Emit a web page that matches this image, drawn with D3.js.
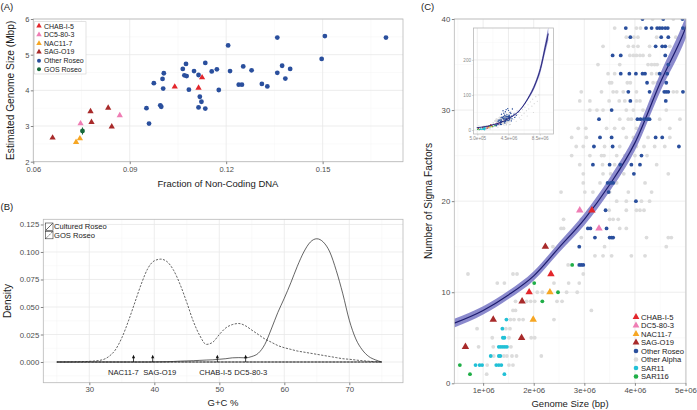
<!DOCTYPE html>
<html><head><meta charset="utf-8">
<script src="https://cdn.jsdelivr.net/npm/d3@7"></script>
<style>
body{margin:0;background:#fff;}
svg{font-family:"Liberation Sans",Arial,sans-serif;display:block;}
</style></head><body>
<svg id="chart" width="697" height="410"></svg>
<script>
// ---------------- DATA ----------------
// Panel A: [fraction non-coding, estimated genome size (Mbp)]
const A_otherRoseo = [[0.1507,5.52],[0.1359,5.48],[0.1206,5.26],[0.1497,4.88],[0.1075,4.74],[0.1135,4.77],[0.1065,4.60],[0.1006,4.48],[0.1100,4.54],[0.1114,4.43],[0.1070,4.42],[0.1077,4.40],[0.1002,4.32],[0.0975,4.20],[0.1155,4.53],[0.1171,4.59],[0.1212,4.54],[0.1253,4.67],[0.1279,4.56],[0.1374,4.69],[0.1399,4.60],[0.1359,4.49],[0.1384,4.33],[0.1311,4.18],[0.1239,4.16],[0.1249,4.16],[0.1328,4.11],[0.1004,4.05],[0.1084,4.02],[0.1177,4.01],[0.1118,3.82],[0.1123,3.68],[0.0995,3.58],[0.0998,3.54],[0.1114,3.52],[0.1135,3.49],[0.0952,3.50],[0.0960,3.07],[0.1697,5.48]];
const A_chab = [[0.1040,4.10],[0.1125,4.36],[0.1114,4.07]];
const A_dc5 = [[0.0869,3.30],[0.0747,3.07]];
const A_nac = [[0.0733,2.55],[0.0745,2.65]];
const A_sag = [[0.0660,2.67],[0.0778,3.41],[0.0781,3.11],[0.0833,3.51],[0.0844,2.98]];
const A_gos = [[0.0753,2.86]];
const A_gosErrX = [0.0748,0.0758];
const A_gosErrY = [2.76,2.96];
const A_xTicks = [0.06,0.09,0.12,0.15];
const A_yTicks = [2,3,4,5,6];

// Panel B: densities over G+C %
const B_gc = [25,28,30,32,33,34,35,36,37,38,39,40,41,42,43,44,45,46,47,48,49,50,51,52,53,54,55,56,57,58,59,60,61,62,63,64,65,66,67,68,69,70,71,72,73,74,75];
const B_gos = [0,0.0002,0.0006,0.002,0.005,0.011,0.022,0.037,0.054,0.071,0.085,0.092,0.0935,0.091,0.083,0.07,0.054,0.037,0.024,0.016,0.018,0.025,0.031,0.034,0.035,0.033,0.029,0.025,0.021,0.018,0.015,0.013,0.0115,0.010,0.009,0.008,0.007,0.006,0.005,0.004,0.003,0.0025,0.0018,0.0012,0.0007,0.0003,0];
const B_cultured = [0,0,0,0,0,0,0,0,0,0,0,0.0001,0.0002,0.0003,0.0005,0.0008,0.001,0.0012,0.0015,0.0018,0.002,0.0025,0.003,0.0038,0.004,0.0038,0.005,0.008,0.016,0.03,0.045,0.058,0.072,0.087,0.1,0.109,0.112,0.109,0.1,0.083,0.062,0.038,0.021,0.011,0.005,0.002,0];
const B_arrowGC = [36.8,39.75,49.7,54.05];
const B_labelGC = [35.23,40.83,49.42,54.83];
const B_labels = ["NAC11-7","SAG-O19","CHAB-I-5","DC5-80-3"];
const B_xTicks = [30,40,50,60,70];
const B_yTicks = [0,0.025,0.05,0.075,0.1,0.125];

// Panel C: [genome size (Mbp), number of sigma factors]
const C_chab = [[3.15,19],[2.34,12],[1.91,10]];
const C_dc5 = [[2.91,19],[3.29,17]];
const C_nac = [[2.32,10],[1.99,7]];
const C_sag = [[2.23,15],[1.77,9],[1.20,7],[1.76,5],[0.65,4]];
const C_sar116 = [[2.76,13],[2.01,11],[2.48,10],[2.17,9],[0.54,2],[0.74,1]];
const C_sar11 = [[1.46,7],[1.38,6],[1.39,5],[1.42,5],[1.31,4],[1.35,4],[1.39,4],[1.43,4],[1.47,4],[1.15,3],[1.31,3],[1.34,3],[0.85,2],[0.93,2],[0.98,2],[1.26,2],[1.31,2],[1.36,2],[1.42,1]];
const C_otherRoseo = [[4.15,40],[4.56,40],[4.94,40],[3.82,39],[4.22,39],[4.33,39],[4.44,39],[4.49,39],[4.54,39],[4.60,39],[4.65,39],[4.95,39],[3.91,38],[4.52,38],[4.66,38],[4.41,37],[4.54,37],[4.60,37],[3.56,36],[3.72,36],[4.60,36],[4.66,35],[3.72,34],[3.89,34],[4.02,34],[4.15,34],[4.20,34],[4.49,34],[4.64,34],[4.24,33],[4.62,33],[3.87,32],[4.29,32],[4.58,32],[4.62,32],[4.66,32],[4.95,32],[3.91,31],[4.61,31],[3.54,30],[3.29,29],[4.05,29],[4.11,29],[4.18,29],[4.25,29],[4.29,29],[3.31,27],[3.54,27],[4.41,27],[4.54,27],[3.19,26],[3.56,26],[4.87,26],[4.13,25],[3.17,24],[3.50,24],[3.71,24],[3.93,24],[4.10,24],[3.98,23],[3.46,22],[3.52,22],[3.57,22],[3.48,21],[4.02,20],[3.42,19],[3.07,17],[3.12,17],[3.44,17],[3.21,16],[3.50,16],[3.54,16],[3.57,16],[2.90,15],[2.90,13],[2.94,13],[2.98,13],
  [3.6,45],[3.9,48],[4.1,52],[4.3,44],[4.5,56],[4.7,50],[4.0,42],[4.4,61],[3.8,55],[4.8,47],[5.2,45],[4.6,42],[4.2,58],[5.0,60],[5.3,36],[5.5,42],[5.8,52]];
const C_otherAlpha = [[4.35,40],[4.76,40],[3.60,39],[4.03,39],[4.11,39],[3.83,38],[3.98,38],[4.06,38],[4.43,38],[4.81,38],[3.37,37],[3.87,37],[3.97,37],[4.06,37],[4.29,37],[4.69,37],[3.90,36],[3.97,36],[4.03,36],[4.10,36],[4.16,36],[4.29,36],[3.27,35],[3.70,35],[4.26,35],[4.33,35],[4.39,35],[4.44,35],[3.47,34],[3.60,34],[4.33,34],[4.43,34],[3.50,33],[3.54,33],[3.85,33],[3.91,33],[4.36,33],[4.44,33],[2.94,32],[3.34,32],[3.57,32],[3.64,32],[3.77,32],[4.03,32],[4.43,32],[4.76,32],[4.83,32],[2.91,31],[3.11,31],[3.49,31],[3.69,31],[3.80,31],[4.03,31],[4.10,31],[4.33,31],[3.11,30],[3.25,30],[3.37,30],[3.83,30],[3.97,30],[4.16,30],[4.62,30],[3.70,29],[3.87,29],[3.93,29],[4.49,29],[4.89,29],[2.88,28],[3.03,28],[3.44,28],[3.60,28],[3.77,28],[4.03,28],[4.69,28],[2.75,27],[3.04,27],[3.83,27],[3.97,27],[4.26,27],[4.69,27],[2.84,26],[2.98,26],[3.40,26],[3.70,26],[4.03,26],[4.18,26],[4.39,26],[4.59,26],[2.75,25],[3.11,25],[3.34,25],[3.39,25],[3.64,25],[3.80,25],[4.00,25],[4.24,25],[2.91,24],[3.36,24],[3.60,24],[4.43,24],[2.98,23],[3.37,23],[3.52,23],[3.78,23],[4.66,23],[2.98,22],[3.31,22],[3.64,22],[4.20,22],[2.54,21],[3.01,21],[3.17,21],[3.50,21],[3.87,21],[4.33,21],[3.64,20],[3.83,20],[4.13,20],[4.29,20],[3.49,19],[3.83,19],[4.03,19],[4.10,19],[4.18,19],[2.59,18],[2.94,18],[3.50,18],[3.57,18],[3.67,18],[2.54,17],[2.59,17],[3.70,17],[3.83,17],[2.94,16],[4.23,16],[4.66,16],[4.72,16],[2.38,15],[3.40,15],[4.62,15],[3.21,14],[3.37,14],[3.54,14],[3.93,14],[4.20,14],[2.68,13],[0.70,12],[1.59,12],[1.67,12],[2.98,12],[1.28,11],[1.42,11],[2.40,11],[2.69,11],[2.90,11],[2.07,10],[2.17,10],[2.65,10],[2.86,10],[1.64,9],[1.86,9],[1.94,9],[2.02,9],[2.46,9],[2.56,9],[1.59,8],[1.64,8],[3.14,8],[1.54,7],[1.61,7],[1.71,7],[1.79,7],[2.40,7],[0.88,6],[1.45,6],[1.53,6],[1.18,5],[1.51,5],[1.95,5],[2.02,5],[0.91,4],[1.20,4],[1.55,4],[1.21,3],[1.41,3],[1.47,3],[1.57,3],[1.66,3],[2.15,3],[1.08,2],[1.51,2],[1.59,2],[1.07,1],
  [5.2,30],[5.4,38],[5.5,25],[5.7,44],[5.9,35],[6.0,50],[6.2,42],[6.3,58],[6.5,48],[6.6,65],[6.8,55],[7.0,72],[7.1,60],[7.3,80],[7.5,68],[7.6,88],[7.8,75],[8.0,95],[8.2,82],[8.4,100],[5.3,48],[5.6,55],[6.1,30],[6.9,40],[7.7,50],[4.5,45],[4.8,52],[4.2,48],[5.0,62],[4.0,44]];
const C_fitG = [0.43,1.0,1.5,2.0,2.5,3.0,3.5,4.0,4.5,5.0,5.1,6.0,7.0,8.0,8.6,9.2,9.6];
const C_fitN = [6.6,8.0,9.7,11.8,14.9,18.0,21.8,26.4,33.0,39.0,40.5,58,90,135,175,235,275];
const C_fitSE = [0.48,0.45,0.45,0.5,0.55,0.65,0.75,0.85,1.0,1.2,1.25,2,4,7,10,14,18];
const C_xTicks = [1e6,2e6,3e6,4e6,5e6];
const C_yTicks = [0,10,20,30,40];
const I_xTicks = [5e5,4.5e6,8.5e6];
const I_yTicks = [0,100,200];

const colors = {"CHAB-I-5":"#e3262b","DC5-80-3":"#ef7db4","NAC11-7":"#f6a623","SAG-O19":"#a82a2a","Other Roseo":"#2a4f9d","Other Alpha":"#dcdcdc","SAR11":"#21c0d6","SAR116":"#1fae47","GOS Roseo":"#17683a"};

// ---------------- DRAW ----------------
const svg = d3.select("#chart");
const GRID_MAJ="#e8e8e8", GRID_MIN="#f4f4f4", BORDER="#b8b8b8", TXT="#1a1a1a", TICKTXT="#4d4d4d";
let clipId = 0;

function frame(x, y, xt, yt, xm, ym) {
  const g = svg.append("g");
  const [xa,xb] = x.range(), [yb,ya] = y.range();
  g.append("rect").attr("x",xa).attr("y",ya).attr("width",xb-xa).attr("height",yb-ya).attr("fill","#fff");
  g.selectAll(".gxm").data(xm).join("line").attr("x1",d=>x(d)).attr("x2",d=>x(d)).attr("y1",ya).attr("y2",yb).attr("stroke",GRID_MIN).attr("stroke-width",0.5);
  g.selectAll(".gym").data(ym).join("line").attr("y1",d=>y(d)).attr("y2",d=>y(d)).attr("x1",xa).attr("x2",xb).attr("stroke",GRID_MIN).attr("stroke-width",0.5);
  g.selectAll(".gx").data(xt).join("line").attr("x1",d=>x(d)).attr("x2",d=>x(d)).attr("y1",ya).attr("y2",yb).attr("stroke",GRID_MAJ).attr("stroke-width",0.8);
  g.selectAll(".gy").data(yt).join("line").attr("y1",d=>y(d)).attr("y2",d=>y(d)).attr("x1",xa).attr("x2",xb).attr("stroke",GRID_MAJ).attr("stroke-width",0.8);
  const id = "clip"+(clipId++);
  svg.append("clipPath").attr("id",id).append("rect").attr("x",xa).attr("y",ya).attr("width",xb-xa).attr("height",yb-ya);
  const inner = svg.append("g").attr("clip-path",`url(#${id})`);
  return {g, inner, border: ()=>svg.append("rect").attr("x",xa).attr("y",ya).attr("width",xb-xa).attr("height",yb-ya).attr("fill","none").attr("stroke",BORDER).attr("stroke-width",0.8)};
}
function axes(x, y, xt, yt, xf, yf, fs, xpad) {
  const [xa,xb] = x.range(), [yb,ya] = y.range();
  const ax = svg.append("g").attr("transform",`translate(0,${yb})`)
    .call(d3.axisBottom(x).tickValues(xt).tickFormat(xf).tickSize(2.5).tickPadding(xpad||1.5));
  const ay = svg.append("g").attr("transform",`translate(${xa},0)`)
    .call(d3.axisLeft(y).tickValues(yt).tickFormat(yf).tickSize(2.5).tickPadding(1.5));
  [ax,ay].forEach(a=>{
    a.select(".domain").remove();
    a.selectAll("line").attr("stroke","#333").attr("stroke-width",0.6);
    a.selectAll("text").attr("fill",TICKTXT).attr("font-size",fs).attr("font-family","Liberation Sans, Arial, sans-serif");
  });
}
const tri = (sz)=>d3.symbol(d3.symbolTriangle, sz)();
function pts(g, data, x, y, color, shape, size) {
  if (shape === "tri") {
    g.selectAll(null).data(data).join("path").attr("d",tri(size))
      .attr("transform",d=>`translate(${x(d[0])},${y(d[1])})`).attr("fill",color);
  } else {
    g.selectAll(null).data(data).join("circle").attr("cx",d=>x(d[0])).attr("cy",d=>y(d[1])).attr("r",size).attr("fill",color);
  }
}
function title(txt, x, y, rot, fs) {
  svg.append("text").attr("transform",`translate(${x},${y})${rot?" rotate(-90)":""}`)
    .attr("text-anchor","middle").attr("font-size",fs).attr("fill",TXT).text(txt);
}

// ---- Panel A ----
const xA = d3.scaleLinear([0.06,0.175],[33.3,403]);
const yA = d3.scaleLinear([2,6],[161.7,19]);
const fA = frame(xA,yA,A_xTicks,A_yTicks,[0.075,0.105,0.135,0.165],[2.5,3.5,4.5,5.5]);
pts(fA.inner, A_otherRoseo, xA, yA, colors["Other Roseo"], "c", 2.4);
pts(fA.inner, A_chab, xA, yA, colors["CHAB-I-5"], "tri", 17);
pts(fA.inner, A_dc5, xA, yA, colors["DC5-80-3"], "tri", 17);
pts(fA.inner, A_nac, xA, yA, colors["NAC11-7"], "tri", 17);
pts(fA.inner, A_sag, xA, yA, colors["SAG-O19"], "tri", 17);
fA.inner.append("line").attr("x1",xA(A_gos[0][0])).attr("x2",xA(A_gos[0][0])).attr("y1",yA(A_gosErrY[0])).attr("y2",yA(A_gosErrY[1])).attr("stroke",colors["GOS Roseo"]).attr("stroke-width",1);
fA.inner.append("line").attr("y1",yA(A_gos[0][1])).attr("y2",yA(A_gos[0][1])).attr("x1",xA(A_gosErrX[0])).attr("x2",xA(A_gosErrX[1])).attr("stroke",colors["GOS Roseo"]).attr("stroke-width",1);
pts(fA.inner, A_gos, xA, yA, colors["GOS Roseo"], "c", 2.4);
fA.border();
axes(xA,yA,A_xTicks,A_yTicks,d3.format(".2f"),d3.format("d"),7.5,2.6);
title("Fraction of Non-Coding DNA", 218, 186.5, false, 9.5);
title("Estimated Genome Size (Mbp)", 13.5, 90.3, true, 10.2);
svg.append("text").attr("x",0.5).attr("y",9.5).attr("font-size",9.5).attr("fill",TXT).text("(A)");
// legend A
{
  const items = ["CHAB-I-5","DC5-80-3","NAC11-7","SAG-O19","Other Roseo","GOS Roseo"];
  const lg = svg.append("g");
  lg.append("rect").attr("x",34.3).attr("y",21.7).attr("width",51.7).attr("height",52.3).attr("fill","#fff").attr("stroke","#cfcfcf").attr("stroke-width",0.6);
  items.forEach((n,i)=>{
    const cy = 26 + i*8.66;
    if (i<4) lg.append("path").attr("d",tri(13)).attr("transform",`translate(39,${cy})`).attr("fill",colors[n]);
    else lg.append("circle").attr("cx",39).attr("cy",cy).attr("r",2).attr("fill",colors[n]);
    lg.append("text").attr("x",44).attr("y",cy+2.5).attr("font-size",7).attr("fill",TXT).text(n);
  });
}

// ---- Panel B ----
const xB = d3.scaleLinear([22.92,78.26],[43.3,403]);
const yB = d3.scaleLinear([-0.0188,0.1297],[382.7,219.3]);
const fB = frame(xB,yB,B_xTicks,B_yTicks,[25,35,45,55,65,75],[-0.0125,0.0125,0.0375,0.0625,0.0875,0.1125]);
const areaB = (vals)=>d3.area().x((d,i)=>xB(B_gc[i])).y0(yB(0)).y1(d=>yB(d)).curve(d3.curveMonotoneX)(vals);
fB.inner.append("path").attr("d",areaB(B_cultured)).attr("fill","none").attr("stroke","#222").attr("stroke-width",0.7);
fB.inner.append("path").attr("d",areaB(B_gos)).attr("fill","none").attr("stroke","#222").attr("stroke-width",0.7).attr("stroke-dasharray","2.2,1.4");
B_arrowGC.forEach(v=>{
  const x = xB(v);
  fB.inner.append("line").attr("x1",x).attr("x2",x).attr("y1",yB(0)).attr("y2",yB(0.0055)).attr("stroke","#111").attr("stroke-width",0.8);
  fB.inner.append("path").attr("d",`M${x-1.6},${yB(0.0035)}L${x},${yB(0.0065)}L${x+1.6},${yB(0.0035)}Z`).attr("fill","#111");
});
B_labels.forEach((t,i)=>{
  fB.inner.append("text").attr("x",xB(B_labelGC[i])).attr("y",yB(-0.0095)+2.7).attr("text-anchor","middle").attr("font-size",7.6).attr("fill",TXT).text(t);
});
fB.border();
axes(xB,yB,B_xTicks,B_yTicks,d3.format("d"),d3.format(".3f"),7.8);
title("G+C %", 223, 406, false, 9.5);
title("Density", 10.5, 301, true, 10.2);
svg.append("text").attr("x",0.5).attr("y",209.5).attr("font-size",9.5).attr("fill",TXT).text("(B)");
// legend B
{
  const lg = svg.append("g");
  ["Cultured Roseo","GOS Roseo"].forEach((n,i)=>{
    const y0 = 223 + i*8.3;
    lg.append("rect").attr("x",45.5).attr("y",y0).attr("width",7.5).attr("height",7.5).attr("fill","#fff").attr("stroke","#333").attr("stroke-width",0.6);
    lg.append("line").attr("x1",45.8).attr("y1",y0+7.2).attr("x2",52.7).attr("y2",y0+0.3).attr("stroke","#222").attr("stroke-width",0.7).attr("stroke-dasharray",i?"1.6,1":null);
    lg.append("text").attr("x",54).attr("y",y0+6.3).attr("font-size",7.6).attr("fill",TXT).text(n);
  });
}

// ---- Panel C ----
const xC = d3.scaleLinear([0.43e6,5.01e6],[454.3,686]);
const yC = d3.scaleLinear([0,40],[383.3,19]);
const fC = frame(xC,yC,C_xTicks,[10,20,30,40],[0.5e6,1.5e6,2.5e6,3.5e6,4.5e6],[5,15,25,35]);
const fitIdx = d3.range(C_fitG.length);
function drawFit(g, xs, ys, lw, upTo) {
  const idx = fitIdx.filter(i=>C_fitG[i]<=upTo);
  g.append("path").attr("d", d3.area().x(i=>xs(C_fitG[i]*1e6)).y0(i=>ys(C_fitN[i]-C_fitSE[i])).y1(i=>ys(C_fitN[i]+C_fitSE[i])).curve(d3.curveMonotoneX)(idx))
    .attr("fill","#7775c4").attr("fill-opacity",0.85);
  g.append("path").attr("d", d3.line().x(i=>xs(C_fitG[i]*1e6)).y(i=>ys(C_fitN[i])).curve(d3.curveMonotoneX)(idx))
    .attr("fill","none").attr("stroke","#1d1c6e").attr("stroke-width",lw);
}
pts(fC.inner, C_otherAlpha.map(d=>[d[0]*1e6,d[1]]), xC, yC, colors["Other Alpha"], "c", 1.9);
drawFit(fC.inner, xC, yC, 1.2, 5.2);
pts(fC.inner, C_otherRoseo.map(d=>[d[0]*1e6,d[1]]), xC, yC, colors["Other Roseo"], "c", 1.9);
pts(fC.inner, C_sar11.map(d=>[d[0]*1e6,d[1]]), xC, yC, colors["SAR11"], "c", 1.9);
pts(fC.inner, C_sar116.map(d=>[d[0]*1e6,d[1]]), xC, yC, colors["SAR116"], "c", 1.9);
[["CHAB-I-5",C_chab],["DC5-80-3",C_dc5],["NAC11-7",C_nac],["SAG-O19",C_sag]].forEach(([n,d])=>
  pts(fC.inner, d.map(p=>[p[0]*1e6,p[1]]), xC, yC, colors[n], "tri", 24));
fC.border();
const expFmt = (v, dig)=>v.toExponential(dig).replace(/e([+-])(\d)$/,"e$10$2");
axes(xC,yC,C_xTicks,C_yTicks,v=>expFmt(v,0),d3.format("d"),7.8);
title("Genome Size (bp)", 570, 406.5, false, 9.5);
title("Number of Sigma Factors", 431.5, 201, true, 10.2);
svg.append("text").attr("x",421).attr("y",9.5).attr("font-size",9.5).attr("fill",TXT).text("(C)");
// legend C
{
  const lg = svg.append("g");
  ["CHAB-I-5","DC5-80-3","NAC11-7","SAG-O19","Other Roseo","Other Alpha","SAR11","SAR116"].forEach((n,i)=>{
    const cy = 317 + i*8.5;
    if (i<4) lg.append("path").attr("d",tri(20)).attr("transform",`translate(636,${cy})`).attr("fill",colors[n]);
    else lg.append("circle").attr("cx",636).attr("cy",cy).attr("r",2.3).attr("fill",colors[n]);
    lg.append("text").attr("x",641).attr("y",cy+2.7).attr("font-size",7.6).attr("fill",TXT).text(n);
  });
}

// ---- Inset ----
const xI = d3.scaleLinear([0.013e6,10.27e6],[473.5,553.5]);
const yI = d3.scaleLinear([-11.4,291],[134,28]);
const fI = frame(xI,yI,I_xTicks,I_yTicks,[2.5e6,6.5e6],[50,150,250]);
pts(fI.inner, C_otherAlpha.map(d=>[d[0]*1e6,d[1]]), xI, yI, "#d4d4d4", "c", 0.6);
pts(fI.inner, C_otherRoseo.map(d=>[d[0]*1e6,d[1]]), xI, yI, colors["Other Roseo"], "c", 0.7);
pts(fI.inner, C_sar11.map(d=>[d[0]*1e6,d[1]]), xI, yI, colors["SAR11"], "c", 0.8);
pts(fI.inner, C_sar116.map(d=>[d[0]*1e6,d[1]]), xI, yI, colors["SAR116"], "c", 0.7);
[["CHAB-I-5",C_chab],["DC5-80-3",C_dc5],["NAC11-7",C_nac],["SAG-O19",C_sag]].forEach(([n,d])=>
  pts(fI.inner, d.map(p=>[p[0]*1e6,p[1]]), xI, yI, colors[n], "c", 0.7));
drawFit(fI.inner, xI, yI, 0.9, 10);
fI.border();
{
  const ax = svg.append("g").attr("transform",`translate(0,134)`).call(d3.axisBottom(xI).tickValues(I_xTicks).tickFormat(v=>expFmt(v,1)).tickSize(1.5).tickPadding(1));
  const ay = svg.append("g").attr("transform",`translate(473.5,0)`).call(d3.axisLeft(yI).tickValues(I_yTicks).tickFormat(d3.format("d")).tickSize(1.5).tickPadding(1));
  [ax,ay].forEach(a=>{
    a.select(".domain").remove();
    a.selectAll("line").attr("stroke","#999").attr("stroke-width",0.4);
    a.selectAll("text").attr("fill","#8a8a8a").attr("font-size",4.6).attr("font-family","Liberation Sans, Arial, sans-serif");
  });
}
</script>
</body></html>
